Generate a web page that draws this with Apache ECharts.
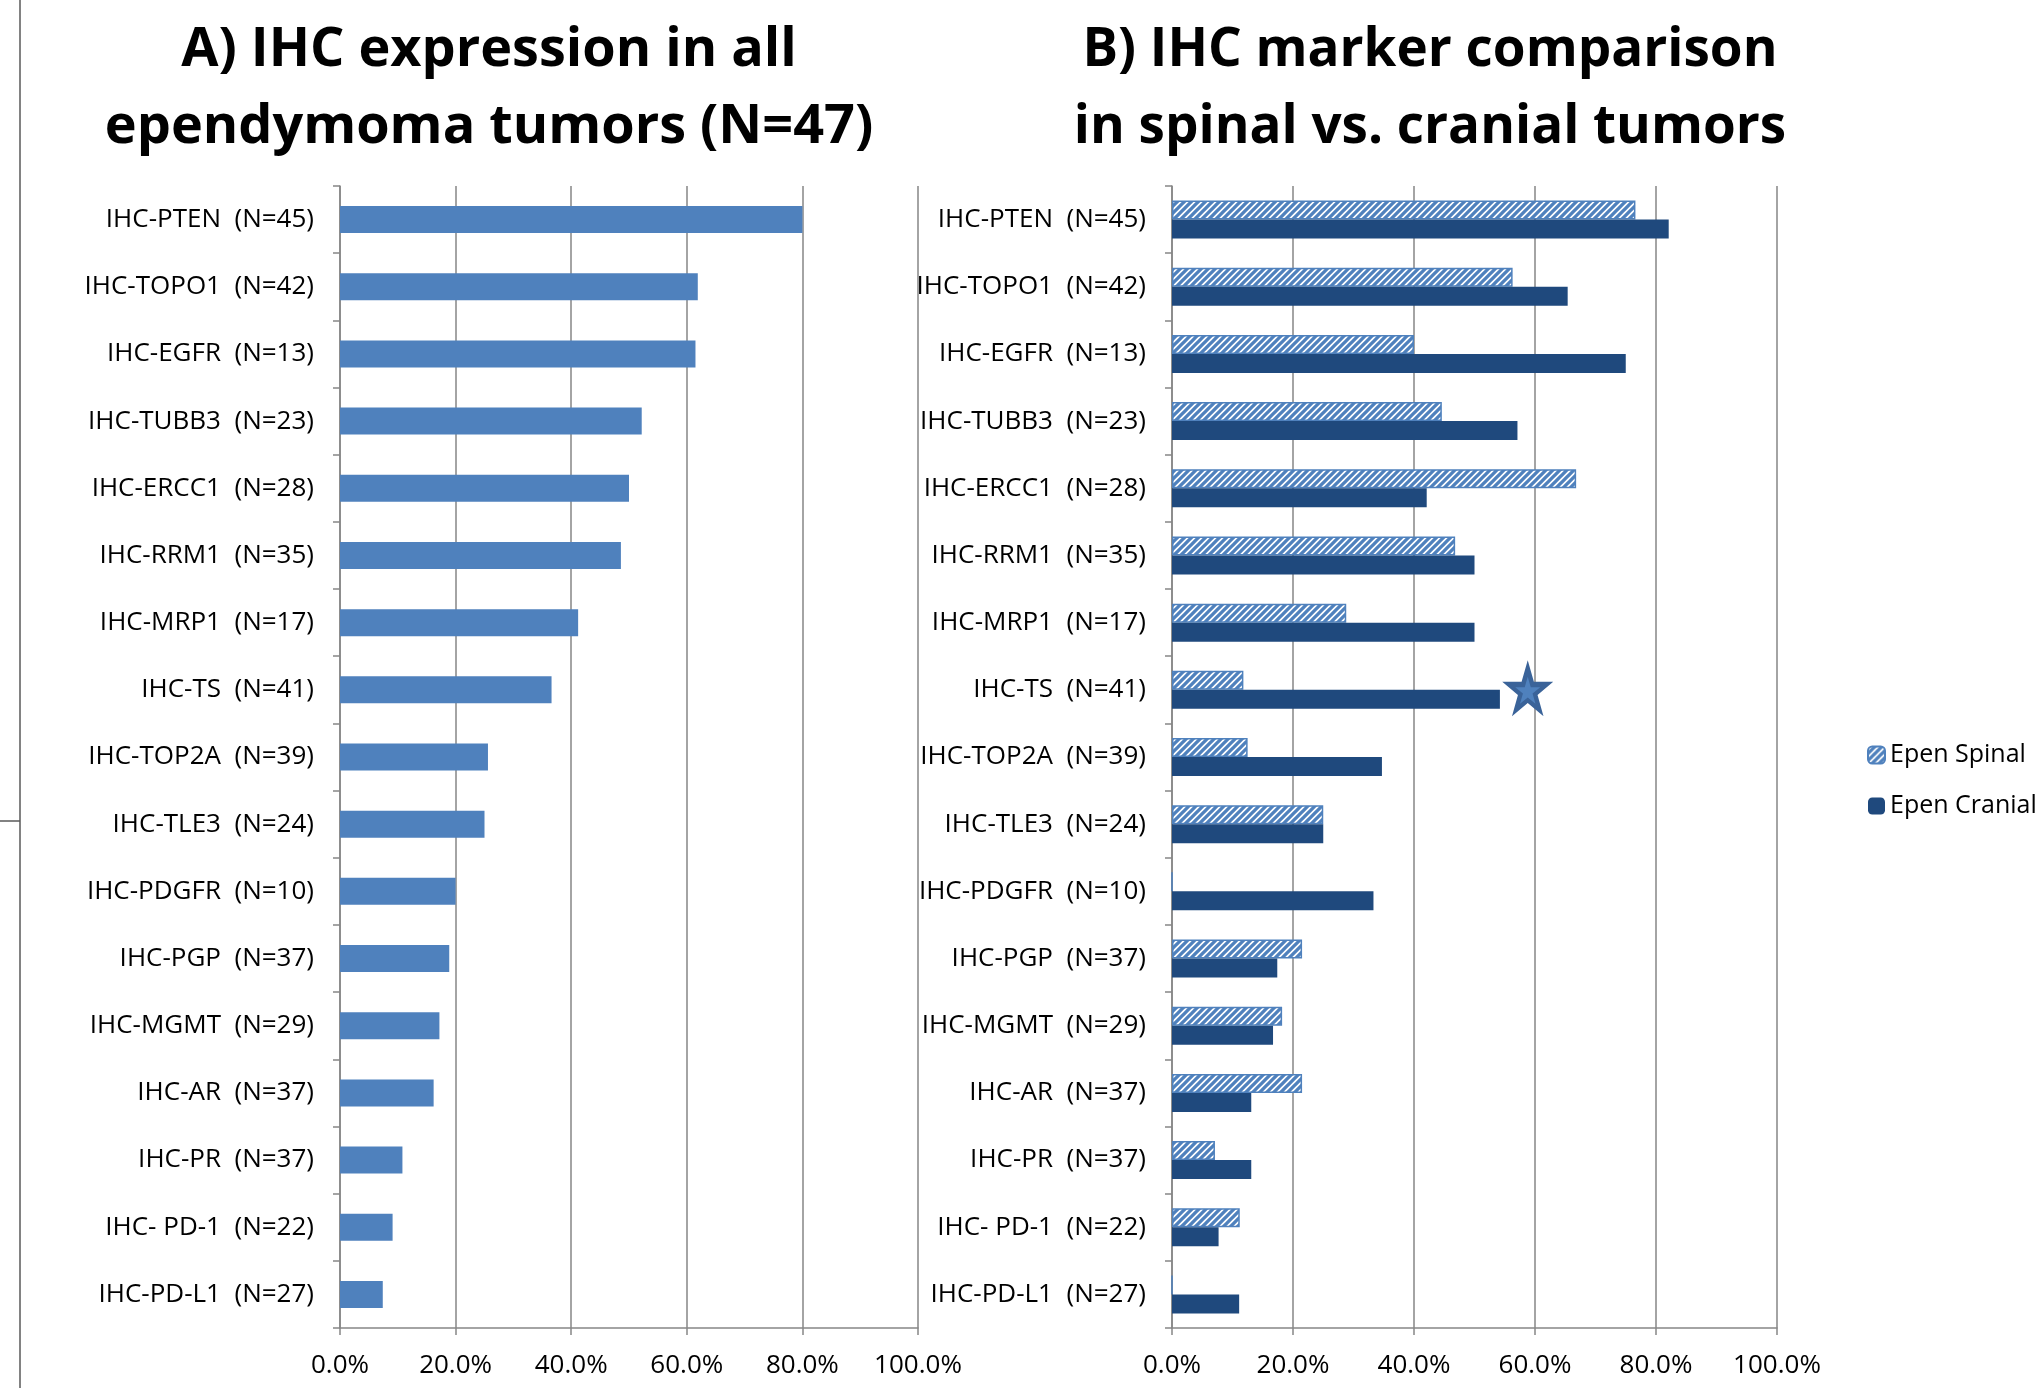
<!DOCTYPE html>
<html>
<head>
<meta charset="utf-8">
<title>IHC expression in ependymoma</title>
<script src="https://cdn.jsdelivr.net/npm/echarts@6/dist/echarts.min.js"></script>
<style>
  html, body { margin: 0; padding: 0; background: #fff; }
  #chart { width: 2037px; height: 1388px; }
</style>
</head>
<body>
<div id="chart"></div>
<script>
// markers, top to bottom
var markers = [
  'IHC-PTEN  (N=45)', 'IHC-TOPO1  (N=42)', 'IHC-EGFR  (N=13)', 'IHC-TUBB3  (N=23)',
  'IHC-ERCC1  (N=28)', 'IHC-RRM1  (N=35)', 'IHC-MRP1  (N=17)', 'IHC-TS  (N=41)',
  'IHC-TOP2A  (N=39)', 'IHC-TLE3  (N=24)', 'IHC-PDGFR  (N=10)', 'IHC-PGP  (N=37)',
  'IHC-MGMT  (N=29)', 'IHC-AR  (N=37)', 'IHC-PR  (N=37)', 'IHC- PD-1  (N=22)',
  'IHC-PD-L1  (N=27)'
];
// A) all tumors, percent
var allTumors = [80.0, 61.9, 61.5, 52.2, 50.0, 48.6, 41.2, 36.6, 25.6, 25.0, 20.0, 18.9, 17.2, 16.2, 10.8, 9.1, 7.4];
// B) spinal vs cranial, percent
var spinal = [76.6, 56.3, 40.0, 44.6, 66.8, 46.8, 28.8, 11.8, 12.5, 25.0, 0, 21.5, 18.2, 21.5, 7.1, 11.2, 0];
var cranial = [82.1, 65.4, 75.0, 57.1, 42.1, 50.0, 50.0, 54.2, 34.7, 25.0, 33.3, 17.4, 16.7, 13.1, 13.1, 7.7, 11.1];
// star annotation (significant difference)
var starMarker = ['IHC-TS  (N=41)'];
var starValue = [58.8];

var FONT = "'Open Sans', sans-serif";
var GRID_COLOR = '#868686';
var STAR = 'path://M50,0 L61.8,35.1 L98.9,35.1 L68.8,56.8 L80.2,91.9 L50,70.2 L19.8,91.9 L31.2,56.8 L1.1,35.1 L38.2,35.1 Z';

// diagonal hatch for the spinal bars
function hatch() {
  var c = document.createElement('canvas');
  c.width = 7; c.height = 7;
  var g = c.getContext('2d');
  g.fillStyle = '#fff';
  g.fillRect(0, 0, 7, 7);
  g.strokeStyle = '#4F81BD';
  g.lineWidth = 3.3;
  g.beginPath();
  g.moveTo(-2, 9); g.lineTo(9, -2);
  g.moveTo(-2, 2); g.lineTo(2, -2);
  g.moveTo(5, 9); g.lineTo(9, 5);
  g.stroke();
  return c;
}

function valueAxis(idx) {
  return {
    type: 'value', gridIndex: idx, min: 0, max: 100, interval: 20,
    axisLine: { show: true, lineStyle: { color: GRID_COLOR, width: 1.5 } },
    axisTick: { show: true, length: 7, lineStyle: { color: GRID_COLOR, width: 1.5 } },
    splitLine: { show: true, lineStyle: { color: GRID_COLOR, width: 1.5 } },
    axisLabel: {
      fontFamily: FONT, fontSize: 26, color: '#000', margin: 25,
      formatter: function (v) { return v.toFixed(1) + '%'; }
    }
  };
}
function catAxis(idx) {
  return {
    type: 'category', gridIndex: idx, data: markers, inverse: true,
    axisLine: { show: true, lineStyle: { color: GRID_COLOR, width: 1.5 } },
    axisTick: { show: true, length: 7, lineStyle: { color: GRID_COLOR, width: 1.5 } },
    axisLabel: { fontFamily: FONT, fontSize: 26, color: '#000', margin: 26 }
  };
}

var myChart = echarts.init(document.getElementById('chart'), null, { renderer: 'canvas' });
var option = {
  animation: false,
  backgroundColor: '#fff',
  title: [
    {
      text: 'A) IHC expression in all\nependymoma tumors (N=47)',
      left: 484, top: 7, textAlign: 'center',
      textStyle: { fontFamily: FONT, fontSize: 54, fontWeight: 'bold', lineHeight: 77, color: '#000' }
    },
    {
      text: 'B) IHC marker comparison\nin spinal vs. cranial tumors',
      left: 1425, top: 7, textAlign: 'center',
      textStyle: { fontFamily: FONT, fontSize: 53, fontWeight: 'bold', lineHeight: 77, color: '#000' }
    }
  ],
  legend: {
    data: ['Epen Spinal', 'Epen Cranial'],
    orient: 'vertical', left: 1862, top: 733,
    itemWidth: 17, itemHeight: 17, itemGap: 17,
    textStyle: { fontFamily: FONT, fontSize: 25, color: '#000', lineHeight: 34 }
  },
  grid: [
    { left: 340, width: 578, top: 186, height: 1142 },
    { left: 1172, width: 605, top: 186, height: 1142 }
  ],
  xAxis: [valueAxis(0), valueAxis(1)],
  yAxis: [catAxis(0), catAxis(1)],
  graphic: [
    // frame edge from the original figure
    { type: 'line', shape: { x1: 20, y1: 0, x2: 20, y2: 1388 }, style: { stroke: '#595959', lineWidth: 1.5 } },
    { type: 'line', shape: { x1: 0, y1: 821, x2: 20, y2: 821 }, style: { stroke: '#595959', lineWidth: 1.5 } }
  ],
  series: [
    {
      name: 'All tumors', type: 'bar', xAxisIndex: 0, yAxisIndex: 0,
      data: allTumors, barWidth: 27,
      itemStyle: { color: '#4F81BD' }
    },
    {
      name: 'Epen Spinal', type: 'bar', xAxisIndex: 1, yAxisIndex: 1,
      data: spinal, barWidth: 19, barGap: '0%',
      itemStyle: { color: { image: hatch(), repeat: 'repeat' }, borderColor: '#4F81BD', borderWidth: 1.5 }
    },
    {
      name: 'Epen Cranial', type: 'bar', xAxisIndex: 1, yAxisIndex: 1,
      data: cranial, barWidth: 19, barGap: '0%',
      itemStyle: { color: '#1F497D' },
      markPoint: {
        silent: true,
        label: { show: false },
        // marker sits on the cranial bar centre; lift it to the category centre
        data: [
          { coord: [starValue[0], starMarker[0]], symbol: STAR, symbolSize: [51, 56], symbolOffset: [0, -11],
            itemStyle: { color: '#3A6399' } },
          { coord: [starValue[0], starMarker[0]], symbol: STAR, symbolSize: [25, 27], symbolOffset: [0, -9],
            itemStyle: { color: '#4F81BD' } }
        ]
      }
    }
  ]
};
myChart.setOption(option);
</script>
</body>
</html>
